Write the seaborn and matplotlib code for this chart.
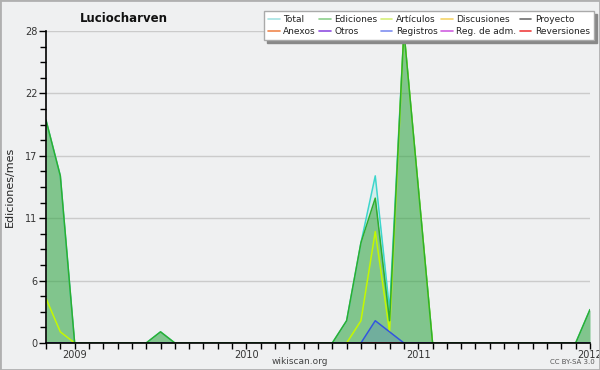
import numpy as np
import pandas as pd
import matplotlib
matplotlib.use("Agg")
import matplotlib.pyplot as plt
from matplotlib.lines import Line2D
from matplotlib.patches import Rectangle
import seaborn as sns

# ---- data (monthly, Nov 2008 .. Jan 2012) ----
months = pd.period_range("2008-11", "2012-01", freq="M").astype(str).tolist()
total = [20, 15, 0, 0, 0, 0, 0, 0, 1, 0, 0, 0, 0, 0, 0, 0, 0, 0, 0, 0,
         0, 2, 9, 15, 3, 28, 14, 0, 0, 0, 0, 0, 0, 0, 0, 0, 0, 0, 3]
ediciones = [20, 15, 0, 0, 0, 0, 0, 0, 1, 0, 0, 0, 0, 0, 0, 0, 0, 0, 0, 0,
             0, 2, 9, 13, 2, 28, 14, 0, 0, 0, 0, 0, 0, 0, 0, 0, 0, 0, 3]
articulos = [4, 1, 0, 0, 0, 0, 0, 0, 0, 0, 0, 0, 0, 0, 0, 0, 0, 0, 0, 0,
             0, 0, 2, 10, 1, 28, 14, 0, 0, 0, 0, 0, 0, 0, 0, 0, 0, 0, 0]
registros = [0, 0, 0, 0, 0, 0, 0, 0, 0, 0, 0, 0, 0, 0, 0, 0, 0, 0, 0, 0,
             0, 0, 0, 2, 1, 0, 0, 0, 0, 0, 0, 0, 0, 0, 0, 0, 0, 0, 0]
zeros = [0] * len(months)

year_labels = ["2009", "2010", "2011", "2012"]
year_months = ["2009-01", "2010-01", "2011-01", "2012-01"]
ytick_vals = [0, 5.6, 11.2, 16.8, 22.4, 28]
ytick_labels = ["0", "6", "11", "17", "22", "28"]

legend_names = ["Total", "Ediciones", "Artículos", "Discusiones", "Proyecto",
                "Anexos", "Otros", "Registros", "Reg. de adm.", "Reversiones"]
legend_colors = ["#a6e3e3", "#8ccf8c", "#d6f07a", "#f5d46a", "#6e6e6e",
                 "#f0874e", "#8f4fe0", "#7f8ff0", "#d05fe0", "#f04040"]

series = {
    "Discusiones": zeros, "Proyecto": zeros, "Anexos": zeros, "Otros": zeros,
    "Reg. de adm.": zeros, "Reversiones": zeros,
    "Total": total, "Artículos": articulos, "Registros": registros,
    "Ediciones": ediciones,
}
line_colors = {
    "Discusiones": "#f5d46a", "Proyecto": "#6e6e6e", "Anexos": "#f0874e",
    "Otros": "#8f4fe0", "Reg. de adm.": "#d05fe0", "Reversiones": "#f04040",
    "Total": "#3dd6cc", "Artículos": "#c4f800", "Registros": "#3355e0",
    "Ediciones": "#2fae2f",
}

x = np.arange(len(months))
rows = []
for name, vals in series.items():
    for i, v in enumerate(vals):
        rows.append({"x": i, "value": v, "series": name})
df = pd.DataFrame(rows)

# ---- figure ----
bg = "#eff0f1"
sns.set_theme(style="white")
plt.rcParams["font.family"] = ["DejaVu Sans"]
fig = plt.figure(figsize=(6, 3.7), dpi=100, facecolor=bg)
ax = fig.add_axes([46 / 600, 1 - 343 / 370, 544 / 600, 312 / 370])
ax.set_facecolor(bg)

# fills
ax.fill_between(x, total, color="#3dd6cc", alpha=0.15, lw=0, zorder=1)
ax.fill_between(x, ediciones, color="#30a030", alpha=0.5, lw=0, zorder=1.1)
ax.fill_between(x, registros, color="#3355e0", alpha=0.2, lw=0, zorder=1.2)

sns.lineplot(data=df, x="x", y="value", hue="series",
             hue_order=list(series.keys()), palette=line_colors,
             legend=False, ax=ax, linewidth=1.1, zorder=2)

ax.set_xlim(0, len(months) - 1)
ax.set_ylim(0, 28)
ax.set_xlabel("")
ax.set_ylabel("")

# ticks
ax.set_xticks(x, minor=True)
ax.set_xticks([months.index(m) for m in year_months])
ax.set_xticklabels(year_labels)
ax.set_yticks(ytick_vals)
ax.set_yticklabels(ytick_labels)
ax.set_yticks(np.arange(0, 28.01, 1.4), minor=True)
ax.tick_params(axis="x", which="both", direction="out", length=4, width=1,
               color="black", labelsize=7, labelcolor="#333333", pad=1,
               bottom=True)
ax.tick_params(axis="y", which="major", direction="out", length=5, width=1,
               color="black", labelsize=7, labelcolor="#333333", pad=1,
               left=True)
ax.tick_params(axis="y", which="minor", direction="out", length=4, width=1,
               color="black", left=True)

ax.grid(axis="y", which="major", color="#cbcbcb", linewidth=1)
ax.set_axisbelow(True)
for s in ["top", "right"]:
    ax.spines[s].set_visible(False)
for s in ["left", "bottom"]:
    ax.spines[s].set_color("black")
    ax.spines[s].set_linewidth(1.2)
    ax.spines[s].set_zorder(5)

# texts
fig.text(124 / 600, 1 - 18 / 370, "Luciocharven", ha="center", va="center",
         fontsize=8.5, fontweight="bold", color="#111111")
fig.text(10 / 600, 1 - 187 / 370, "Ediciones/mes", rotation=90, ha="center",
         va="center", fontsize=8, color="#222222")
fig.text(300 / 600, 1 - 361 / 370, "wikiscan.org", ha="center", va="center",
         fontsize=6.5, color="#444444")
fig.text(572 / 600, 1 - 362 / 370, "CC BY-SA 3.0", ha="center", va="center",
         fontsize=5, color="#555555")

# legend
order = [0, 5, 1, 6, 2, 7, 3, 8, 4, 9]
handles = [Line2D([0], [0], color=legend_colors[i], lw=1.2) for i in order]
labels = [legend_names[i] for i in order]
leg = fig.legend(handles, labels, ncol=5, loc="upper right",
                 bbox_to_anchor=(594 / 600, 1 - 11 / 370), borderaxespad=0,
                 fontsize=6.5, handlelength=1.3, handletextpad=0.4,
                 columnspacing=0.35, labelspacing=0.3, borderpad=0.45,
                 frameon=True, fancybox=False,
                 shadow={"color": "#888888", "alpha": 1})
leg.get_frame().set_facecolor("white")
leg.get_frame().set_edgecolor("#aaaaaa")
leg.get_frame().set_linewidth(1)
for t in leg.get_texts():
    t.set_color("#222222")

# figure border
fig.patches.append(Rectangle((0, 0), 1, 1, transform=fig.transFigure,
                             fill=False, edgecolor="#b0b0b0", linewidth=2))

fig.savefig("out.png", dpi=100, facecolor=bg)
